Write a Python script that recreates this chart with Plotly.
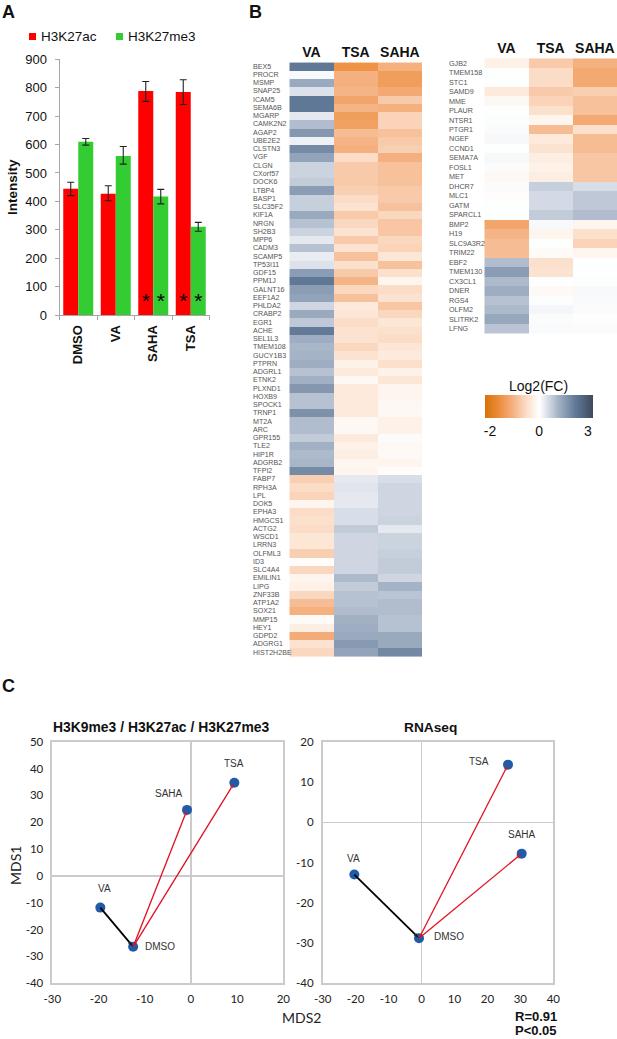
#!/usr/bin/env python
import plotly.graph_objects as go

W, H = 617, 1039

# panel A
TREATMENTS = ['DMSO', 'VA', 'SAHA', 'TSA']
H3K27AC = [444, 427, 788, 785]
H3K27AC_UP = [23, 28, 34, 43]
H3K27AC_DOWN = [24, 25, 36, 44]
H3K27ME3 = [610, 560, 417, 311]
H3K27ME3_UP = [11, 33, 25, 15]
H3K27ME3_DOWN = [12, 29, 26, 16]
H3K27AC_MARKS = ['', '', '*', '*']
H3K27ME3_MARKS = ['', '', '*', '*']
INTENSITY_TICKS = [0, 100, 200, 300, 400, 500, 600, 700, 800, 900]

# panel B
HEAT_COLS = ['VA', 'TSA', 'SAHA']
GENES_LEFT = ['BEX5', 'PROCR', 'MSMP', 'SNAP25', 'ICAM5', 'SEMA6B', 'MGARP', 'CAMK2N2', 'AGAP2', 'UBE2E2', 'CLSTN3', 'VGF',
              'CLGN', 'CXorf57', 'DOCK6', 'LTBP4', 'BASP1', 'SLC35F2', 'KIF1A', 'NRGN', 'SH2B3', 'MPP6', 'CADM3', 'SCAMP5',
              'TP53I11', 'GDF15', 'PPM1J', 'GALNT16', 'EEF1A2', 'PHLDA2', 'CRABP2', 'EGR1', 'ACHE', 'SEL1L3', 'TMEM108', 'GUCY1B3',
              'PTPRN', 'ADGRL1', 'ETNK2', 'PLXND1', 'HOXB9', 'SPOCK1', 'TRNP1', 'MT2A', 'ARC', 'GPR155', 'TLE2', 'HIP1R',
              'ADGRB2', 'TFPI2', 'FABP7', 'RPH3A', 'LPL', 'DOK5', 'EPHA3', 'HMGCS1', 'ACTG2', 'WSCD1', 'LRRN3', 'OLFML3',
              'ID3', 'SLC4A4', 'EMILIN1', 'LIPG', 'ZNF33B', 'ATP1A2', 'SOX21', 'MMP15', 'HEY1', 'GDPD2', 'ADGRG1', 'HIST2H2BE']
FC_LEFT = [[2.0, -1.4, -1.0], [0.08, -1.0, -1.25], [1.2, -1.0, -1.25], [0.4, -0.95, -1.1], [2.0, -1.15, -0.7], [2.0, -0.95, -1.0],
           [0.3, -1.25, -0.6], [0.9, -1.2, -0.6], [1.5, -0.85, -0.8], [0.2, -0.95, -0.7], [1.7, -1.0, -0.65], [1.3, -0.5, -1.0],
           [0.6, -0.7, -0.8], [0.6, -0.7, -0.8], [0.7, -0.7, -0.8], [1.4, -0.65, -0.7], [0.65, -0.5, -0.7], [0.65, -0.4, -0.8],
           [1.2, -0.7, -0.55], [0.85, -0.55, -0.75], [0.6, -0.4, -0.75], [0.3, -0.7, -0.55], [0.85, -0.4, -0.6], [0.25, -0.8, -0.35],
           [0.4, -0.45, -0.8], [1.4, -0.7, -0.45], [2.0, -0.95, -0.15], [1.4, -0.55, -0.5], [1.3, -0.8, -0.4], [0.55, -0.3, -0.75],
           [1.2, -0.35, -0.55], [0.75, -0.5, -0.35], [1.95, -0.4, -0.45], [1.15, -0.4, -0.5], [1.0, -0.55, -0.35], [1.05, -0.4, -0.3],
           [1.15, -0.2, -0.45], [0.85, -0.3, -0.2], [1.1, -0.1, -0.35], [1.5, -0.3, -0.15], [0.85, -0.3, -0.15], [0.85, -0.3, -0.1],
           [1.6, -0.3, -0.1], [0.9, -0.1, -0.2], [0.9, -0.1, -0.2], [0.7, -0.3, 0.05], [1.1, -0.2, -0.1], [0.95, -0.25, -0.08],
           [1.0, -0.12, -0.15], [1.7, -0.15, -0.05], [-0.65, 0.3, 0.45], [-0.5, 0.35, 0.55], [-0.6, 0.3, 0.55], [-0.15, 0.3, 0.55],
           [-0.5, 0.45, 0.55], [-0.45, 0.45, 0.6], [-0.5, 0.7, 0.3], [-0.35, 0.55, 0.6], [-0.35, 0.55, 0.6], [-0.65, 0.55, 0.65],
           [-0.05, 0.55, 0.7], [-0.55, 0.55, 0.7], [-0.15, 0.95, 0.55], [-0.2, 0.7, 1.05], [-0.55, 0.85, 0.8], [-0.85, 0.85, 0.9],
           [-1.0, 0.9, 0.9], [-0.07, 1.1, 0.85], [-0.25, 1.15, 0.85], [-1.05, 1.2, 1.2], [-0.4, 1.45, 1.2], [-0.55, 1.3, 1.75]]
GENES_RIGHT = ['GJB2', 'TMEM158', 'STC1', 'SAMD9', 'MME', 'PLAUR', 'NTSR1', 'PTGR1', 'NGEF', 'CCND1', 'SEMA7A', 'FOSL1', 'MET',
               'DHCR7', 'MLC1', 'GATM', 'SPARCL1', 'BMP2', 'H19', 'SLC9A3R2', 'TRIM22', 'EBF2', 'TMEM130', 'CX3CL1', 'DNER', 'RGS4',
               'OLFM2', 'SLITRK2', 'LFNG']
FC_RIGHT = [[-0.2, -0.7, -1.0], [0.02, -0.5, -1.1], [0.02, -0.5, -1.1], [-0.3, -0.7, -0.65], [-0.1, -0.6, -0.8], [0.02, -0.45, -0.8],
            [0.03, -0.15, -1.1], [0.05, -0.85, -0.45], [0.1, -0.3, -0.85], [0.02, -0.4, -0.85], [0.1, -0.25, -0.75], [0.05, -0.2, -0.75],
            [-0.1, -0.25, -0.75], [0.05, 0.65, 0.45], [-0.03, 0.5, 0.75], [0.02, 0.5, 0.75], [0.02, 0.7, 0.9], [-1.15, 0.08, -0.15],
            [-0.95, -0.15, -0.45], [-0.85, 0.02, -0.6], [-0.85, -0.07, -0.12], [0.9, -0.45, 0.02], [1.4, -0.4, 0.02], [0.95, 0.02, 0.03],
            [1.15, -0.08, 0.08], [0.85, 0.03, 0.07], [0.95, 0.12, 0.05], [1.25, 0.05, 0.03], [0.8, 0.07, 0.05]]
FC_STOPS = [-2, -1.4, -1, -0.5, 0, 0.5, 1, 2, 3]
FC_COLORS = ['#d8720a', '#ee9347', '#f4b07f', '#fbdcc6', '#ffffff', '#d3dae5', '#a9b6c8', '#5f7896', '#3d4659']
SCALE_STEPS = [-2, -1.5, -1, -0.5, 0, 0.75, 1.5, 2.25, 3]
SCALE_TICK_POS = [0.37, 4.0, 7.6]
SCALE_TICK_TEXT = ['-2', '0', '3']

# panel C
MDS_NAMES = ['DMSO', 'VA', 'SAHA', 'TSA']
CHROM_MDS2 = [-12.5, -19.6, -0.84, 9.4]
CHROM_MDS1 = [-26.4, -11.8, 24.6, 34.7]
RNA_MDS2 = [-0.76, -20.4, 30.4, 26.25]
RNA_MDS1 = [-28.8, -13, -7.8, 14.3]
CHROM_X_TICKS = [-30, -20, -10, 0, 10, 20]
CHROM_Y_TICKS = [-40, -30, -20, -10, 0, 10, 20, 30, 40, 50]
RNA_X_TICKS = [-30, -20, -10, 0, 10, 20, 30, 40]
RNA_Y_TICKS = [-40, -30, -20, -10, 0, 10, 20]

SANS = 'Liberation Sans'
SOFT = 'Lato'
GREY_AXIS = '#a6a6a6'
GREY_BOX = '#cbcbcb'


def dom_x(x0, x1):
    return [x0 / W, x1 / W]


def dom_y(y0, y1):
    return [1 - y1 / H, 1 - y0 / H]


def note(fig, x, y, text, size=10, bold=False, family=SANS, color='#222222', anchor='center', angle=0):
    if bold:
        text = '<b>{}</b>'.format(text)
    fig.add_annotation(x=x / W, y=1 - y / H, xref='paper', yref='paper', text=text, showarrow=False, xanchor=anchor,
                       yanchor='middle', textangle=angle, font=dict(family=family, size=size, color=color))


def plot_bars(fig):
    fig.add_trace(go.Bar(x=TREATMENTS, y=H3K27AC, marker_color='#ff0000', marker_line_width=0, text=H3K27AC_MARKS, textposition='inside',
                         insidetextanchor='start', textangle=0, textfont=dict(family=SANS, size=21, color='black'),
                         error_y=dict(type='data', array=H3K27AC_UP, arrayminus=H3K27AC_DOWN, color='#222222', thickness=1.1, width=3.5),
                         xaxis='x', yaxis='y'))
    fig.add_trace(go.Bar(x=TREATMENTS, y=H3K27ME3, marker_color='#33cc33', marker_line_width=0, text=H3K27ME3_MARKS, textposition='inside',
                         insidetextanchor='start', textangle=0, textfont=dict(family=SANS, size=21, color='black'),
                         error_y=dict(type='data', array=H3K27ME3_UP, arrayminus=H3K27ME3_DOWN, color='#222222', thickness=1.1, width=3.5),
                         xaxis='x', yaxis='y'))
    fig.update_layout(
        barmode='group', bargap=0.2, bargroupgap=0,
        xaxis=dict(domain=dom_x(59.5, 209.5), anchor='y', tickson='boundaries', ticks='outside', ticklen=4, tickcolor=GREY_AXIS,
                   showline=True, linecolor=GREY_AXIS, tickangle=-90,
                   tickfont=dict(family=SANS, size=13, color='#111111', weight='bold'), ticklabelstandoff=4),
        yaxis=dict(domain=dom_y(59.3, 315), anchor='x', range=[0, 900], tickvals=INTENSITY_TICKS, ticks='outside', ticklen=4,
                   tickcolor=GREY_AXIS, showline=True, linecolor=GREY_AXIS, showgrid=False, zeroline=False,
                   tickfont=dict(family=SANS, size=13, color='#111111'), ticklabelstandoff=5,
                   title=dict(text='<b>Intensity</b>', font=dict(family=SANS, size=13.5, color='#111111'), standoff=4)),
    )
    # hand made legend, plotly swatches are too far from the text
    for x0, color, label in [(29, '#ff0000', 'H3K27ac'), (116, '#33cc33', 'H3K27me3')]:
        fig.add_shape(type='rect', xref='paper', yref='paper', x0=x0 / W, x1=(x0 + 7) / W, y0=1 - 40 / H, y1=1 - 33 / H,
                      fillcolor=color, line_width=0)
        note(fig, x0 + 10, 37, label, size=13.5, color='#111111', anchor='left')


def plot_heatmap(fig, genes, values, ax, x0, x1, y0, y1, label_x, size=7.1):
    fig.add_trace(go.Heatmap(z=values, x=HEAT_COLS, y=genes, coloraxis='coloraxis', xaxis='x' + ax, yaxis='y' + ax))
    fig.update_layout({
        'xaxis' + ax: dict(domain=dom_x(x0, x1), anchor='y' + ax, side='top', ticks='', showgrid=False, zeroline=False,
                           tickfont=dict(family=SANS, size=14, color='#111111', weight='bold'), tickangle=0),
        'yaxis' + ax: dict(domain=dom_y(y0, y1), anchor='x' + ax, autorange='reversed', showticklabels=False, ticks='',
                           showgrid=False, zeroline=False),
    })
    for g in genes:
        fig.add_annotation(x=label_x / W, y=g, xref='paper', yref='y' + ax, text=g, showarrow=False, xanchor='left', yanchor='middle',
                           font=dict(family=SANS, size=size, color='#555555'))


def plot_scale(fig):
    fig.add_trace(go.Heatmap(z=[SCALE_STEPS, SCALE_STEPS], y=[0, 1], zsmooth='best', coloraxis='coloraxis', xaxis='x4', yaxis='y4'))
    fig.update_layout(
        xaxis4=dict(domain=dom_x(485, 593.3), anchor='y4', range=[0, 8], tickvals=SCALE_TICK_POS, ticktext=SCALE_TICK_TEXT, ticks='',
                    showgrid=False, zeroline=False, tickfont=dict(family=SANS, size=14, color='#111111'), ticklabelstandoff=3),
        yaxis4=dict(domain=dom_y(395, 418), anchor='x4', range=[0, 1], showticklabels=False, ticks='', showgrid=False, zeroline=False),
    )
    note(fig, 538, 385.5, 'Log2(FC)', size=14, color='#111111')


def plot_mds(fig, names, xs, ys, ax, x_dom, y_dom, xticks, yticks, zero_width, offsets):
    xa, ya = 'x' + ax, 'y' + ax
    fig.add_trace(go.Scatter(x=xs, y=ys, mode='markers', marker=dict(color='#1f5ca8', size=10), xaxis=xa, yaxis=ya))
    for i in range(1, len(names)):
        color = '#000000' if names[i] == 'VA' else '#e01020'
        width = 1.8 if names[i] == 'VA' else 1.3
        # black line points at DMSO, red ones away from it
        order = [i, 0] if names[i] == 'VA' else [0, i]
        fig.add_trace(go.Scatter(x=[xs[j] for j in order], y=[ys[j] for j in order], mode='lines+markers',
                                 line=dict(color=color, width=width),
                                 marker=dict(symbol='arrow', angleref='previous', size=[0, 6], color=color, line_width=0),
                                 xaxis=xa, yaxis=ya))
    box = dict(showline=True, mirror=True, linecolor=GREY_BOX, linewidth=1.5, showgrid=False, zeroline=True, zerolinecolor=GREY_BOX,
               zerolinewidth=zero_width, ticks='', tickfont=dict(family=SOFT, size=11.5, color='#222222'))
    fig.update_layout({
        'xaxis' + ax: dict(box, domain=x_dom, anchor=ya, range=[xticks[0], xticks[-1]], tickvals=xticks, ticktext=[str(t) for t in xticks],
                           ticklabelstandoff=4),
        'yaxis' + ax: dict(box, domain=y_dom, anchor=xa, range=[yticks[0], yticks[-1]], tickvals=yticks, ticktext=[str(t) for t in yticks],
                           ticklabelstandoff=5),
    })
    for name, x, y in zip(names, xs, ys):
        dx, dy = offsets[name]
        fig.add_annotation(x=x, y=y, xref=xa, yref=ya, text=name, showarrow=False, xshift=dx, yshift=dy,
                           font=dict(family=SANS, size=10, color='#333333'))


def main():
    fig = go.Figure()
    plot_bars(fig)
    plot_heatmap(fig, GENES_LEFT, FC_LEFT, '2', 289.3, 422, 60.7, 658.7, 250.5)
    plot_heatmap(fig, GENES_RIGHT, FC_RIGHT, '3', 484.3, 617, 56.7, 335, 446.7, size=7.2)
    plot_scale(fig)

    chrom_offsets = {'VA': (4, 19), 'DMSO': (27, 0), 'SAHA': (-18, 16), 'TSA': (0, 19)}
    rna_offsets = {'VA': (-1, 16), 'DMSO': (30, 2), 'SAHA': (0, 19), 'TSA': (-29, 3)}
    plot_mds(fig, MDS_NAMES, CHROM_MDS2, CHROM_MDS1, '5', dom_x(52.3, 283.3), dom_y(741.7, 983.3), CHROM_X_TICKS, CHROM_Y_TICKS, 1.6, chrom_offsets)
    plot_mds(fig, MDS_NAMES, RNA_MDS2, RNA_MDS1, '6', dom_x(322.7, 553.3), dom_y(741.7, 983.3), RNA_X_TICKS, RNA_Y_TICKS, 1, rna_offsets)

    note(fig, 160.5, 727, 'H3K9me3 / H3K27ac / H3K27me3', size=13.9, bold=True, color='#111111')
    note(fig, 430, 727, 'RNAseq', size=13.7, bold=True, color='#111111')
    note(fig, 15, 866, 'MDS1', size=14, family=SOFT, angle=-90)
    note(fig, 301, 1017, 'MDS2', size=14, family=SOFT)
    note(fig, 536, 1016, 'R=0.91', size=13, bold=True, color='#111111')
    note(fig, 536, 1030, 'P&lt;0.05', size=13, bold=True, color='#111111')
    note(fig, 8, 12, 'A', size=18, bold=True, color='#111111')
    note(fig, 255, 12, 'B', size=18, bold=True, color='#111111')
    note(fig, 8, 686, 'C', size=18, bold=True, color='#111111')

    colorscale = [[(s + 2) / 5, c] for s, c in zip(FC_STOPS, FC_COLORS)]
    fig.update_layout(width=W, height=H, margin=dict(l=0, r=0, t=0, b=0), autosize=False, showlegend=False,
                      paper_bgcolor='white', plot_bgcolor='white',
                      coloraxis=dict(colorscale=colorscale, cmin=-2, cmax=3, showscale=False))
    # the default template turns automargin on, which moves the panels off their domains
    fig.update_xaxes(automargin=False)
    fig.update_yaxes(automargin=False)
    fig.write_html('out.html', post_script="document.body.style.margin='0';", config={'displayModeBar': False})


if __name__ == '__main__':
    main()
